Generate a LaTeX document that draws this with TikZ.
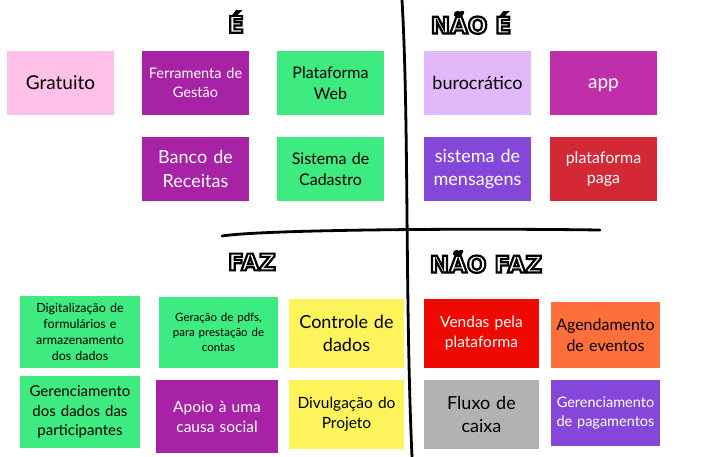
\documentclass[tikz,border=0pt]{standalone}
\usepackage{fontspec}
\setmainfont{Lato}
\newfontfamily\letreirofont{DejaVu Sans}
\usetikzlibrary{calc}
\definecolor{rosa}{HTML}{FFC1E8}
\definecolor{roxo}{HTML}{A822A6}
\definecolor{verde}{HTML}{3DEB80}
\definecolor{lilas}{HTML}{E1B9FA}
\definecolor{magenta}{HTML}{C02FAA}
\definecolor{violeta}{HTML}{8447D9}
\definecolor{vinho}{HTML}{D32836}
\definecolor{amarelo}{HTML}{FDF35A}
\definecolor{vermelho}{HTML}{EE0A00}
\definecolor{laranja}{HTML}{FF6F3B}
\definecolor{cinza}{HTML}{B2B2B2}

\newcommand\tam[1]{\fontsize{#1}{\the\dimexpr#1pt*13/10\relax}\selectfont}
\newcommand\letreiro[1]{{\color{white}\special{pdf:literal direct 0 G 2 Tr 2.2 w}#1\special{pdf:literal direct 0 Tr 0.4 w}}}

\tikzset{
  nota/.style={inner sep=0pt, align=center, minimum width=#1, text width=#1-6pt},
  nota/.default=107pt,
  claro/.style={text=black},
  escuro/.style={text=white},
  titulo/.style={font=\letreirofont\bfseries\fontsize{23}{26}\selectfont, inner sep=0pt}
}

\begin{document}
\begin{tikzpicture}[x=1pt, y=-1pt]

    \useasboundingbox (0,0) rectangle (704,457);

    % linhas do quadro
    \draw[line width=2.8pt, line cap=round] (402,0) .. controls (409,120) and (405,300) .. (412,457);
    \draw[line width=2.8pt, line cap=round] (222,236) .. controls (260,230) and (450,228) .. (600,230);

    % titulos
    \node[titulo] (e) at (236,22) {\letreiro{É}};
    \node[titulo] (naoe) at (471,23) {\letreiro{NÃO É}};
    \node[titulo] (faz) at (252,262) {\letreiro{FAZ}};
    \node[titulo] (naofaz) at (486,262) {\letreiro{NÃO FAZ}};

    % é
    \node[nota, fill=rosa, claro, minimum height=64pt, font=\tam{19}] (gratuito) at (60.5,83) {Gratuito};
    \node[nota, fill=roxo, escuro, minimum height=64pt, font=\tam{14.5}] (ferramenta) at (195.5,83) {Ferramenta de\\Gestão};
    \node[nota, fill=verde, claro, minimum height=64pt, font=\tam{16}] (web) at (330.5,83) {Plataforma\\Web};
    \node[nota, fill=roxo, escuro, minimum height=64pt, font=\tam{18}] (receitas) at (195.5,169) {Banco de\\Receitas};
    \node[nota, fill=verde, claro, minimum height=64pt, font=\tam{16}] (cadastro) at (330.5,169) {Sistema de\\Cadastro};

    % não é
    \node[nota, fill=lilas, claro, minimum height=64pt, font=\tam{18}] (burocratico) at (477.5,83) {burocrático};
    \node[nota, fill=magenta, escuro, minimum height=64pt, font=\tam{19}] (app) at (603.5,83) {\vphantom{A}app};
    \node[nota, fill=violeta, escuro, minimum height=64pt, font=\tam{18}] (mensagens) at (477.5,169) {sistema de\\mensagens};
    \node[nota, fill=vinho, escuro, minimum height=64pt, font=\tam{16}] (paga) at (603.5,169) {plataforma\\paga};

    % faz
    \node[nota=120pt, fill=verde, claro, minimum height=72pt, font=\tam{12.5}] (digitalizacao) at (80,332) {Digitalização de\\formulários e\\armazenamento\\dos dados};
    \node[nota=119pt, fill=verde, claro, minimum height=71pt, font=\tam{11.5}] (pdfs) at (218.5,332.5) {Geração de pdfs,\\para prestação de\\contas};
    \node[nota=115pt, fill=amarelo, claro, minimum height=69pt, font=\tam{18}] (controle) at (346.5,333.5) {Controle de\\dados};
    \node[nota=120pt, fill=verde, claro, minimum height=72pt, font=\tam{15}] (participantes) at (80,412) {Gerenciamento\\dos dados das\\participantes};
    \node[nota=122pt, fill=roxo, escuro, minimum height=73pt, font=\tam{15.5}] (apoio) at (217,416.5) {Apoio à uma\\causa social};
    \node[nota=115pt, fill=amarelo, claro, minimum height=69pt, font=\tam{15.5}] (divulgacao) at (346.5,414.5) {Divulgação do\\Projeto};

    % não faz
    \node[nota=115pt, fill=vermelho, escuro, minimum height=69pt, font=\tam{15.5}] (vendas) at (481.5,333.5) {Vendas pela\\plataforma};
    \node[nota=109pt, fill=laranja, claro, minimum height=66pt, font=\tam{16}] (agendamento) at (605.5,335) {Agendamento\\de eventos};
    \node[nota=115pt, fill=cinza, claro, minimum height=69pt, font=\tam{18}] (caixa) at (481.5,414.5) {Fluxo de\\caixa};
    \node[nota=109pt, fill=violeta, escuro, minimum height=66pt, font=\tam{14.5}] (pagamentos) at (605.5,413) {Gerenciamento\\de pagamentos};

\end{tikzpicture}
\end{document}
